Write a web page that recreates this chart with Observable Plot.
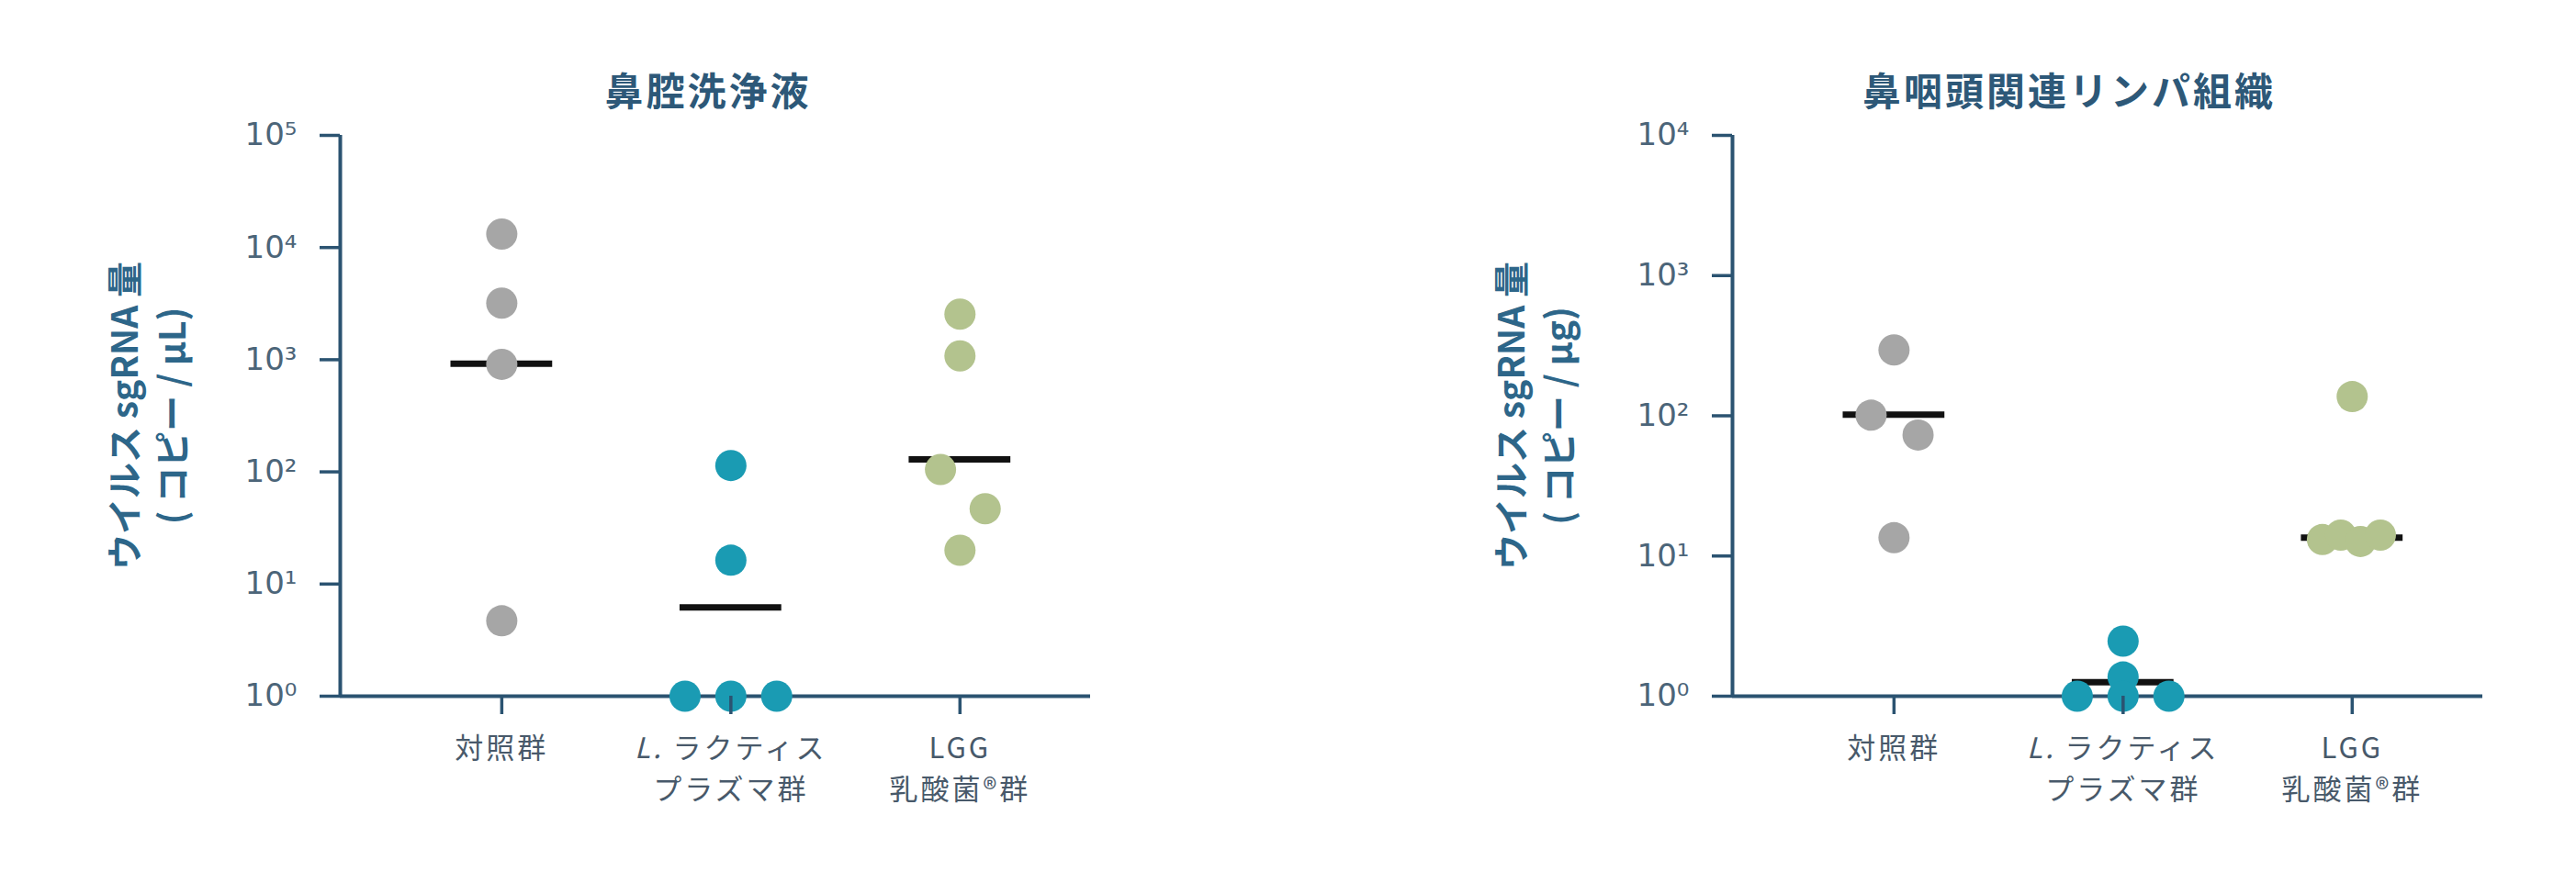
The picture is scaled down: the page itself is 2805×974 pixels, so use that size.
<!DOCTYPE html>
<html><head><meta charset="utf-8">
<script src="https://cdn.jsdelivr.net/npm/d3@7"></script>
<script src="https://cdn.jsdelivr.net/npm/@observablehq/plot@0.6"></script>
<style>
body{margin:0;background:#fff;}
#wrap{position:relative;width:2805px;height:974px;overflow:hidden;background:#fff;}
.title{position:absolute;top:76px;font-family:"Noto Sans CJK JP";font-weight:700;font-size:42px;line-height:1;color:#2d5878;transform:translateX(-50%);white-space:nowrap;letter-spacing:3px;}
.panel{position:absolute;top:0;}
.chart g[aria-label="x-axis tick label"] text{letter-spacing:3px;}
</style></head><body>
<div id="wrap">
 <div class="panel" id="p1" style="left:0px"></div>
 <div class="panel" id="p2" style="left:1402px"></div>
 <div class="title" id="t1" style="left:771px"></div>
 <div class="title" id="t2" style="left:2253px"></div>
</div>
<script>
// ---- data ----
const groups = ["対照群", "L. ラクティス\nプラズマ群", "LGG\n乳酸菌®群"];
const titles = ["鼻腔洗浄液", "鼻咽頭関連リンパ組織"];
const yLabels = ["ウイルス sgRNA 量\n( コピー / μL)", "ウイルス sgRNA 量\n( コピー / μg)"];
const nasalTicks = [1, 10, 100, 1000, 10000, 100000];
const naltTicks = [1, 10, 100, 1000, 10000];

// 鼻腔洗浄液
const nasalControl = [13200, 3200, 910, 4.7];
const nasalControlJitter = [0, 0, 0, 0];
const nasalLacticis = [114, 16.3, 1, 1, 1];
const nasalLacticisJitter = [0, 0, -0.2, 0, 0.2];
const nasalLGG = [2550, 1080, 105, 47, 20];
const nasalLGGJitter = [0, 0, -0.085, 0.11, 0];
const nasalMean = [920, 6.2, 129];

// 鼻咽頭関連リンパ組織
const naltControl = [295, 101, 73, 13.5];
const naltControlJitter = [0, -0.1, 0.105, 0];
const naltLacticis = [2.47, 1.37, 1, 1, 1];
const naltLacticisJitter = [0, 0, -0.2, 0, 0.2];
const naltLGG = [137, 13.1, 14.1, 12.7, 14.1];
const naltLGGJitter = [0, -0.13, -0.05, 0.036, 0.123];
const naltMean = [102, 1.26, 13.5];

const groupColors = ["#a6a6a6", "#1a9bb3", "#b3c38e"];

// ---- drawing ----
const sup = n => String(n).split("").map(c => "⁰¹²³⁴⁵⁶⁷⁸⁹"[+c]).join("");
const axisColor = "#2b5371";

function panel({series, jitters, means, ticks, yMax, ylabel, marginLeft, marginRight, labelDx}) {
  const meanRows = means.map((m, g) => ({g, m}));
  const xMin = -0.705, xMax = 2.57;
  const dotMarks = series.map((vals, g) =>
    Plot.dot(vals.map((v, k) => ({x: g + jitters[g][k], y: v})), {x: "x", y: "y", r: 17, fill: groupColors[g], stroke: "none"})
  );
  const chart = Plot.plot({
    className: "chart",
    width: 1402, height: 974,
    marginLeft, marginRight, marginTop: 147, marginBottom: 216,
    x: {type: "linear", domain: [xMin, xMax], label: null},
    y: {type: "log", domain: [1, yMax], label: null},
    style: {background: "transparent", overflow: "visible", fontFamily: "DejaVu Sans"},
    marks: [
      Plot.ruleX([xMin], {stroke: axisColor, strokeWidth: 4}),
      Plot.ruleY([1], {stroke: axisColor, strokeWidth: 4}),
      Plot.ruleY(meanRows, {y: "m", x1: d => d.g - 0.222, x2: d => d.g + 0.222, stroke: "#111", strokeWidth: 7}),
      ...dotMarks,
      Plot.axisY({ticks, tickFormat: d => "10" + sup(Math.round(Math.log10(d))), tickSize: 22, tickPadding: 25,
        fontSize: 34, fontFamily: "DejaVu Sans", color: "#4c6579", stroke: axisColor, strokeWidth: 3.5, label: null}),
      Plot.axisX({ticks: [0, 1, 2], tickFormat: i => groups[i], tickSize: 20, tickPadding: 16,
        fontSize: 31, lineHeight: 1.45, fontFamily: "Noto Sans CJK JP", color: "#48596a", stroke: axisColor, strokeWidth: 3.5, label: null}),
      Plot.text([ylabel], {frameAnchor: "left", textAnchor: "middle", lineAnchor: "middle", dx: labelDx, rotate: -90, fontSize: 39, fontWeight: 700,
        lineHeight: 1.33, fontFamily: "Noto Sans CJK JP", fill: "#2d6689"})
    ]
  });
  // italic genus abbreviation
  chart.querySelectorAll("tspan, text").forEach(el => {
    if (el.childElementCount === 0 && el.textContent.startsWith("L. ")) {
      const rest = el.textContent.slice(2);
      el.textContent = "";
      const it = document.createElementNS("http://www.w3.org/2000/svg", "tspan");
      it.setAttribute("font-style", "italic");
      it.textContent = "L.";
      const r = document.createElementNS("http://www.w3.org/2000/svg", "tspan");
      r.textContent = rest;
      el.appendChild(it); el.appendChild(r);
    }
  });
  return chart;
}

document.getElementById("p1").appendChild(panel({
  series: [nasalControl, nasalLacticis, nasalLGG],
  jitters: [nasalControlJitter, nasalLacticisJitter, nasalLGGJitter],
  means: nasalMean, ticks: nasalTicks, yMax: 1e5, ylabel: yLabels[0],
  marginLeft: 370, marginRight: 215, labelDx: -211
}));
document.getElementById("p2").appendChild(panel({
  series: [naltControl, naltLacticis, naltLGG],
  jitters: [naltControlJitter, naltLacticisJitter, naltLGGJitter],
  means: naltMean, ticks: naltTicks, yMax: 1e4, ylabel: yLabels[1],
  marginLeft: 484, marginRight: 101, labelDx: -217
}));
document.getElementById("t1").textContent = titles[0];
document.getElementById("t2").textContent = titles[1];
</script>
</body></html>
